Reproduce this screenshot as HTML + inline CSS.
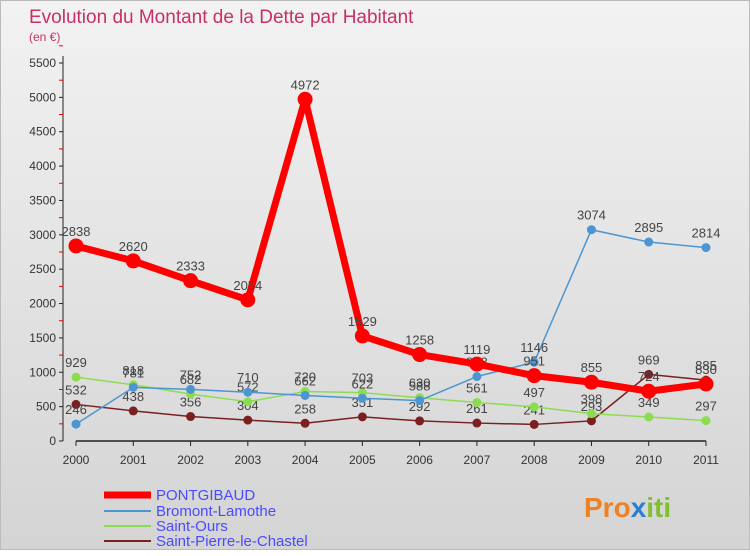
<!DOCTYPE html>
<html><head><meta charset="utf-8"><style>
body{margin:0;background:#fff}
#c{position:relative;width:750px;height:550px;background:linear-gradient(#f2f2f2,#d4d4d4);font-family:"Liberation Sans",sans-serif;border:1px solid #bbb;box-sizing:border-box}
</style></head><body>
<div id="c">
<svg id="s" width="750" height="550" xmlns="http://www.w3.org/2000/svg">
<text x="28" y="22" font-size="19" fill="#c8306a">Evolution du Montant de la Dette par Habitant</text>
<text x="28" y="40" font-size="12" fill="#c8306a">(en €)</text>
<g id="ax"></g><g id="series"></g>
<g font-size="15" fill="#4a4aff">
<line x1="103" y1="494" x2="150" y2="494" stroke="#f00" stroke-width="7"/><text x="155" y="499">PONTGIBAUD</text>
<line x1="103" y1="510" x2="150" y2="510" stroke="#4b96d2" stroke-width="2"/><text x="155" y="515">Bromont-Lamothe</text>
<line x1="103" y1="525" x2="150" y2="525" stroke="#8cdc50" stroke-width="2"/><text x="155" y="530">Saint-Ours</text>
<line x1="103" y1="540" x2="150" y2="540" stroke="#7a2020" stroke-width="2"/><text x="155" y="545">Saint-Pierre-le-Chastel</text>
</g>
<text x="583" y="516" font-size="28" font-weight="bold" fill="#f08020">Pro<tspan fill="#2a80d0">x</tspan><tspan fill="#80c030">iti</tspan></text>
</svg></div>
<script>
const years=["2000","2001","2002","2003","2004","2005","2006","2007","2008","2009","2010","2011"];
const yTicks=[0,500,1000,1500,2000,2500,3000,3500,4000,4500,5000,5500];
const pontgibaud=[2838,2620,2333,2054,4972,1529,1258,1119,951,855,724,830];
const bromont=[246,781,752,710,662,622,588,938,1146,3074,2895,2814];
const saintOurs=[929,818,682,572,720,703,630,561,497,398,349,297];
const saintPierre=[532,438,356,304,258,351,292,261,241,293,969,885];
const NS="http://www.w3.org/2000/svg";
const x=i=>75+i*(630/11), y=v=>440-v*(378/5500);
function mk(t,a,p){const e=document.createElementNS(NS,t);for(const k in a)e.setAttribute(k,a[k]);p.appendChild(e);return e;}
const ax=document.getElementById('ax');
let l=mk('line',{x1:62,y1:55,x2:62,y2:440,stroke:'#222'},ax);


l=mk('line',{x1:75,y1:440,x2:705,y2:440,stroke:'#222',"stroke-width":1.5},ax);


yTicks.forEach(v=>{mk('line',{x1:58,x2:62,y1:y(v),y2:y(v),stroke:'#222'},ax);
mk('line',{x1:58,x2:62,y1:y(v+250),y2:y(v+250),stroke:'#e00'},ax);
const t=mk('text',{x:55,y:y(v)+4,"text-anchor":"end","font-size":12,fill:'#333'},ax);t.textContent=v;

});
years.forEach((yr,i)=>{mk('line',{x1:x(i),x2:x(i),y1:440,y2:445,stroke:'#222'},ax);
const t=mk('text',{x:x(i),y:463,"text-anchor":"middle","font-size":12,fill:'#333'},ax);t.textContent=yr;

});
const sg=document.getElementById('series');
function draw(d,col,w,r,name){const g=mk('g',{},sg);


mk('polyline',{points:d.map((v,i)=>x(i)+','+y(v)).join(' '),fill:'none',stroke:col,"stroke-width":w,"stroke-linejoin":"round"},g);
d.forEach((v,i)=>{const c=mk('circle',{cx:x(i),cy:y(v),r:r,fill:col},g);


const t=mk('text',{x:x(i),y:y(v)-10,"text-anchor":"middle","font-size":13,fill:'#444'},g);t.textContent=v;});}
draw(saintPierre,'#7a2020',1.5,4.5,'saint-pierre-series');
draw(saintOurs,'#8cdc50',1.5,4.5,'saint-ours-series');
draw(bromont,'#4b96d2',1.5,4.5,'bromont-series');
draw(pontgibaud,'#f00',7,7.5,'pontgibaud-series');
</script></body></html>
